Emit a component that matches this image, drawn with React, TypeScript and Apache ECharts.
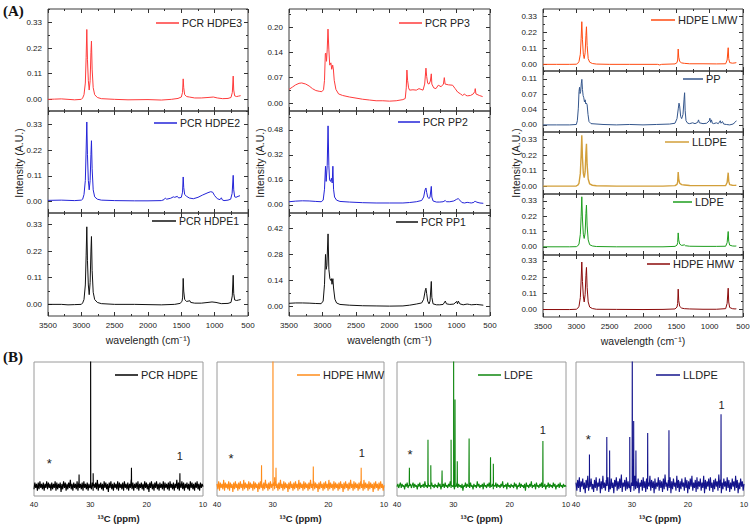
import React, { useEffect, useRef } from "react";
import * as echarts from "echarts";

type Pt = [number, number];

// ---------------- FTIR spectra (wavenumber, intensity) ----------------
const pcrHdpe3: Pt[] = [[3500,0.000],[3400,0.001],[3300,0.002],[3200,0.000],[3100,-0.002],[3000,0.000],[2980,0.006],[2960,0.02],[2940,0.07],[2928,0.18],[2918,0.30],[2908,0.17],[2895,0.08],[2882,0.04],[2868,0.08],[2856,0.2],[2848,0.25],[2838,0.13],[2822,0.05],[2800,0.02],[2760,0.008],[2700,0.003],[2500,0.000],[2300,-0.002],[2000,-0.001],[1800,-0.003],[1650,0.000],[1550,0.004],[1500,0.01],[1482,0.03],[1472,0.088],[1464,0.05],[1450,0.02],[1420,0.012],[1380,0.01],[1300,0.006],[1200,0.006],[1100,0.008],[1020,0.01],[960,0.006],[880,0.003],[800,0.004],[755,0.008],[735,0.03],[722,0.10],[714,0.04],[700,0.015],[670,0.012],[640,0.014],[610,0.016]];
const pcrHdpe2: Pt[] = [[3500,0.005],[3300,0.006],[3100,0.004],[3000,0.006],[2980,0.01],[2960,0.03],[2940,0.09],[2928,0.22],[2918,0.34],[2908,0.2],[2895,0.09],[2882,0.05],[2868,0.09],[2856,0.2],[2848,0.26],[2838,0.14],[2822,0.05],[2800,0.02],[2760,0.01],[2700,0.006],[2500,0.004],[2200,0.003],[2000,0.003],[1800,0.004],[1760,0.008],[1740,0.015],[1720,0.01],[1660,0.014],[1620,0.02],[1600,0.018],[1560,0.022],[1540,0.015],[1500,0.018],[1482,0.04],[1472,0.105],[1464,0.06],[1450,0.03],[1420,0.022],[1380,0.015],[1320,0.012],[1250,0.018],[1180,0.028],[1100,0.038],[1060,0.042],[1030,0.04],[1000,0.025],[960,0.012],[920,0.008],[900,0.016],[885,0.007],[860,0.004],[800,0.006],[760,0.01],[738,0.035],[722,0.112],[714,0.05],[700,0.02],[680,0.018],[650,0.022],[620,0.025]];
const pcrHdpe1: Pt[] = [[3500,0.0],[3300,0.0],[3200,-0.002],[3100,-0.001],[3000,0.0],[2980,0.006],[2960,0.02],[2940,0.08],[2928,0.2],[2918,0.32],[2908,0.18],[2895,0.08],[2882,0.04],[2868,0.09],[2856,0.22],[2848,0.28],[2838,0.14],[2822,0.05],[2800,0.02],[2760,0.008],[2700,0.003],[2500,0.0],[2200,0.0],[2000,-0.001],[1800,-0.002],[1600,0.0],[1520,0.004],[1490,0.012],[1480,0.03],[1472,0.107],[1464,0.055],[1450,0.02],[1420,0.012],[1372,0.015],[1360,0.008],[1300,0.005],[1200,0.005],[1100,0.008],[1040,0.01],[980,0.008],[900,0.003],[800,0.004],[755,0.008],[736,0.035],[722,0.12],[714,0.045],[700,0.018],[670,0.016],[640,0.018],[610,0.02]];
const pcrPp3: Pt[] = [[3500,0.036],[3450,0.042],[3400,0.048],[3350,0.052],[3310,0.053],[3250,0.05],[3200,0.045],[3150,0.038],[3100,0.033],[3050,0.031],[3010,0.03],[2985,0.035],[2970,0.06],[2958,0.13],[2950,0.132],[2940,0.11],[2930,0.14],[2918,0.195],[2905,0.14],[2892,0.1],[2875,0.106],[2862,0.089],[2848,0.1],[2838,0.09],[2825,0.06],[2800,0.036],[2760,0.024],[2700,0.02],[2600,0.016],[2500,0.013],[2400,0.01],[2300,0.008],[2200,0.006],[2100,0.006],[2000,0.005],[1900,0.006],[1800,0.009],[1765,0.012],[1750,0.04],[1740,0.087],[1730,0.06],[1715,0.04],[1700,0.034],[1650,0.035],[1600,0.034],[1560,0.038],[1530,0.036],[1500,0.034],[1475,0.05],[1456,0.092],[1445,0.07],[1430,0.052],[1410,0.05],[1390,0.058],[1376,0.077],[1368,0.05],[1340,0.04],[1307,0.038],[1272,0.047],[1230,0.043],[1195,0.05],[1182,0.067],[1170,0.05],[1120,0.048],[1058,0.047],[1020,0.038],[983,0.029],[940,0.024],[909,0.02],[880,0.024],[860,0.02],[834,0.019],[790,0.02],[750,0.024],[728,0.03],[720,0.038],[710,0.024],[660,0.02],[610,0.017]];
const pcrPp2: Pt[] = [[3500,0.02],[3400,0.024],[3300,0.026],[3200,0.025],[3100,0.022],[3020,0.02],[2990,0.03],[2970,0.1],[2955,0.247],[2945,0.15],[2930,0.25],[2917,0.505],[2905,0.25],[2895,0.16],[2880,0.15],[2867,0.17],[2855,0.14],[2845,0.247],[2835,0.1],[2820,0.05],[2790,0.03],[2740,0.022],[2600,0.018],[2400,0.014],[2200,0.012],[2000,0.012],[1800,0.012],[1700,0.015],[1600,0.02],[1520,0.028],[1490,0.05],[1470,0.095],[1456,0.108],[1445,0.08],[1430,0.05],[1410,0.04],[1395,0.05],[1376,0.118],[1368,0.05],[1350,0.025],[1300,0.018],[1250,0.018],[1200,0.02],[1167,0.028],[1150,0.02],[1100,0.02],[1040,0.025],[1000,0.035],[975,0.04],[950,0.03],[920,0.015],[880,0.012],[841,0.016],[808,0.014],[780,0.012],[740,0.016],[720,0.025],[705,0.018],[650,0.012],[600,0.01]];
const pcrPp1: Pt[] = [[3500,0.018],[3400,0.02],[3300,0.02],[3200,0.019],[3100,0.017],[3020,0.016],[2990,0.03],[2970,0.12],[2955,0.28],[2945,0.2],[2935,0.22],[2917,0.39],[2905,0.2],[2890,0.15],[2875,0.14],[2867,0.15],[2858,0.12],[2845,0.15],[2835,0.1],[2815,0.04],[2790,0.02],[2740,0.012],[2600,0.008],[2400,0.005],[2200,0.004],[2000,0.003],[1800,0.004],[1700,0.008],[1600,0.014],[1520,0.02],[1490,0.04],[1465,0.09],[1456,0.099],[1445,0.07],[1430,0.03],[1410,0.015],[1395,0.03],[1376,0.135],[1368,0.05],[1350,0.015],[1300,0.01],[1250,0.01],[1200,0.012],[1167,0.03],[1150,0.015],[1100,0.012],[1040,0.014],[997,0.028],[985,0.015],[973,0.03],[950,0.015],[900,0.01],[841,0.014],[808,0.012],[780,0.01],[700,0.012],[650,0.01],[600,0.008]];
const hdpeLmw: Pt[] = [[3500,0.0],[3300,0.0],[3100,0.0],[3000,0.001],[2980,0.006],[2960,0.02],[2940,0.07],[2928,0.18],[2918,0.295],[2908,0.17],[2895,0.07],[2882,0.04],[2868,0.08],[2856,0.2],[2848,0.26],[2838,0.13],[2822,0.04],[2800,0.015],[2760,0.006],[2700,0.002],[2500,0.0],[2200,0.0],[2000,0.0],[1780,0.0],[1750,-0.004],[1720,0.0],[1520,0.003],[1490,0.012],[1480,0.03],[1472,0.106],[1464,0.05],[1450,0.02],[1420,0.01],[1380,0.007],[1300,0.004],[1100,0.004],[900,0.003],[760,0.004],[738,0.03],[722,0.115],[714,0.04],[700,0.012],[660,0.008],[620,0.01],[600,0.012]];
const ppRef: Pt[] = [[3500,0.0],[3300,0.0],[3100,0.0],[3000,0.001],[2985,0.01],[2970,0.04],[2960,0.08],[2952,0.09],[2944,0.075],[2935,0.08],[2925,0.1],[2917,0.109],[2908,0.085],[2898,0.07],[2888,0.065],[2878,0.055],[2867,0.06],[2858,0.05],[2848,0.052],[2838,0.048],[2825,0.025],[2810,0.008],[2780,0.003],[2600,0.001],[2400,0.0],[2200,0.001],[2000,0.0],[1800,0.001],[1600,0.002],[1520,0.004],[1490,0.015],[1470,0.04],[1460,0.052],[1450,0.045],[1435,0.02],[1420,0.015],[1400,0.025],[1385,0.06],[1376,0.077],[1368,0.035],[1355,0.01],[1330,0.004],[1300,0.003],[1256,0.005],[1220,0.003],[1180,0.006],[1167,0.012],[1155,0.005],[1100,0.003],[1045,0.004],[1005,0.01],[997,0.016],[985,0.006],[973,0.012],[960,0.004],[940,0.003],[900,0.005],[870,0.003],[841,0.01],[830,0.004],[808,0.008],[790,0.002],[750,0.001],[700,0.0],[650,0.002],[620,0.006],[600,0.01]];
const lldpe: Pt[] = [[3500,0.0],[3100,0.0],[3000,0.001],[2980,0.006],[2960,0.02],[2940,0.09],[2928,0.22],[2918,0.36],[2908,0.2],[2895,0.09],[2882,0.06],[2868,0.1],[2856,0.24],[2848,0.30],[2838,0.15],[2822,0.05],[2800,0.015],[2760,0.006],[2700,0.002],[2400,0.0],[2000,0.0],[1700,0.0],[1520,0.003],[1490,0.012],[1480,0.03],[1472,0.10],[1464,0.05],[1450,0.02],[1420,0.01],[1380,0.008],[1300,0.004],[1100,0.003],[900,0.003],[760,0.004],[738,0.025],[722,0.095],[714,0.035],[700,0.01],[660,0.006],[620,0.005],[600,0.006]];
const ldpe: Pt[] = [[3500,0.0],[3100,0.0],[3000,0.001],[2980,0.006],[2960,0.02],[2940,0.09],[2928,0.22],[2918,0.36],[2908,0.2],[2895,0.09],[2882,0.06],[2868,0.1],[2856,0.24],[2848,0.30],[2838,0.15],[2822,0.05],[2800,0.015],[2760,0.006],[2700,0.002],[2400,0.0],[2000,0.0],[1700,0.0],[1520,0.003],[1490,0.012],[1480,0.03],[1472,0.10],[1464,0.05],[1450,0.02],[1420,0.01],[1378,0.014],[1365,0.008],[1300,0.004],[1100,0.003],[900,0.003],[760,0.004],[738,0.03],[722,0.11],[714,0.04],[700,0.012],[660,0.006],[620,0.005],[600,0.006]];
const hdpeHmw: Pt[] = [[3500,-0.002],[3100,-0.002],[3000,0.0],[2980,0.006],[2960,0.02],[2940,0.08],[2928,0.2],[2918,0.323],[2908,0.19],[2895,0.09],[2882,0.05],[2868,0.1],[2856,0.23],[2848,0.286],[2838,0.15],[2822,0.05],[2800,0.015],[2760,0.005],[2700,0.0],[2400,-0.001],[2000,-0.002],[1700,-0.001],[1520,0.002],[1490,0.015],[1480,0.04],[1472,0.1375],[1464,0.06],[1450,0.02],[1420,0.008],[1380,0.004],[1300,0.002],[1100,0.0],[900,0.0],[760,0.004],[738,0.04],[722,0.144],[714,0.05],[700,0.012],[660,0.004],[620,0.002],[600,0.003]];

// IR tick values and labels
const irXMajor = [500, 1000, 1500, 2000, 2500, 3000, 3500];
const irXMinor = [750, 1250, 1750, 2250, 2750, 3250];
const peTicks = [0, 0.11, 0.22, 0.33];
const peLabels = ["0.00", "0.11", "0.22", "0.33"];
const pp3Ticks = [0, 0.0667, 0.1333, 0.2];
const pp3Labels = ["0.00", "0.07", "0.14", "0.20"];
const pp2Ticks = [0, 0.16, 0.32, 0.48];
const pp2Labels = ["0.00", "0.16", "0.32", "0.48"];
const pp1Ticks = [0, 0.14, 0.28, 0.42];
const pp1Labels = ["0.00", "0.14", "0.28", "0.42"];
const ppRefTicks = [0, 0.0367, 0.0733, 0.11];
const ppRefLabels = ["0.00", "0.04", "0.07", "0.11"];

// ---------------- 13C NMR (baseline samples read from 40 to 10 ppm, peaks [ppm, height]) ----------------
const nmrNoisePcrHdpe = [
0.05,0.10,0.06,0.09,0.04,0.10,0.05,0.11,0.06,0.09,0.05,0.10,0.04,0.09,0.06,0.11,0.05,0.10,0.06,0.09,
0.04,0.10,0.05,0.09,0.06,0.11,0.04,0.10,0.05,0.09,0.06,0.10,0.03,0.09,0.05,0.11,0.06,0.10,0.04,0.09,
0.05,0.10,0.06,0.12,0.05,0.09,0.04,0.10,0.06,0.09,0.05,0.11,0.04,0.10,0.06,0.09,0.05,0.10,0.04,0.11,
0.06,0.09,0.05,0.10,0.04,0.09,0.06,0.11,0.05,0.10,0.04,0.09,0.06,0.10,0.05,0.12,0.04,0.09,0.06,0.10,
0.05,0.09,0.04,0.11,0.06,0.10,0.05,0.09,0.03,0.10,0.06,0.11,0.05,0.09,0.04,0.10,0.06,0.09,0.05,0.11,
0.04,0.10,0.06,0.09,0.05,0.10,0.04,0.11,0.06,0.09,0.05,0.10,0.04,0.09,0.06,0.12,0.05,0.10,0.04,0.09,
0.06,0.10,0.05,0.11,0.04,0.09,0.06,0.10,0.05,0.09,0.04,0.11,0.06,0.10,0.05,0.09,0.03,0.10,0.06,0.11,
0.05,0.09,0.04,0.10,0.06,0.11,0.05,0.09,0.04,0.10,0.06,0.09,0.05,0.11,0.04,0.10,0.06,0.09,0.05,0.10,
0.04,0.11,0.06,0.09,0.05,0.10,0.04,0.09,0.06,0.12,0.05,0.10,0.04,0.09,0.06,0.11,0.05,0.10,0.04,0.09,
0.06,0.10,0.05,0.09,0.04,0.11,0.06,0.10,0.05,0.09,0.04,0.10,0.06,0.11,0.05,0.09,0.04,0.10,0.06,0.09,0.07];
const nmrNoiseHmw = [
0.09,0.05,0.11,0.04,0.10,0.06,0.09,0.05,0.12,0.04,0.10,0.06,0.09,0.05,0.11,0.04,0.10,0.06,0.09,0.03,
0.10,0.05,0.11,0.06,0.09,0.04,0.10,0.05,0.11,0.06,0.09,0.04,0.12,0.05,0.10,0.06,0.09,0.04,0.11,0.05,
0.10,0.06,0.09,0.04,0.11,0.05,0.10,0.06,0.09,0.03,0.10,0.05,0.11,0.06,0.09,0.04,0.10,0.05,0.12,0.06,
0.09,0.04,0.10,0.05,0.11,0.06,0.09,0.04,0.10,0.05,0.11,0.06,0.09,0.04,0.10,0.05,0.12,0.06,0.09,0.04,
0.11,0.05,0.10,0.06,0.09,0.03,0.10,0.05,0.11,0.06,0.09,0.04,0.10,0.05,0.11,0.06,0.09,0.04,0.12,0.05,
0.10,0.06,0.09,0.04,0.11,0.05,0.10,0.06,0.09,0.04,0.10,0.05,0.12,0.06,0.09,0.04,0.11,0.05,0.10,0.06,
0.09,0.03,0.10,0.05,0.11,0.06,0.09,0.04,0.10,0.05,0.11,0.06,0.09,0.04,0.12,0.05,0.10,0.06,0.09,0.04,
0.11,0.05,0.10,0.06,0.09,0.04,0.10,0.05,0.11,0.06,0.09,0.03,0.10,0.05,0.11,0.06,0.09,0.04,0.10,0.05,
0.12,0.06,0.09,0.04,0.11,0.05,0.10,0.06,0.09,0.04,0.10,0.05,0.11,0.06,0.09,0.04,0.12,0.05,0.10,0.06,
0.09,0.04,0.11,0.05,0.10,0.06,0.09,0.03,0.10,0.05,0.11,0.06,0.09,0.04,0.10,0.05,0.11,0.06,0.09,0.04,0.08];
const nmrNoiseLdpe = [
0.07,0.09,0.06,0.08,0.10,0.06,0.09,0.07,0.08,0.05,0.09,0.07,0.10,0.06,0.08,0.07,0.09,0.06,0.08,0.10,
0.06,0.09,0.07,0.08,0.05,0.09,0.07,0.10,0.06,0.08,0.07,0.09,0.06,0.11,0.07,0.08,0.06,0.09,0.07,0.08,
0.05,0.10,0.07,0.08,0.06,0.09,0.07,0.08,0.06,0.10,0.07,0.09,0.05,0.08,0.07,0.09,0.06,0.10,0.07,0.08,
0.06,0.09,0.07,0.11,0.06,0.08,0.07,0.09,0.05,0.08,0.07,0.10,0.06,0.09,0.07,0.08,0.06,0.09,0.04,0.08,
0.07,0.10,0.06,0.09,0.07,0.08,0.06,0.10,0.07,0.08,0.05,0.09,0.07,0.08,0.06,0.11,0.07,0.09,0.06,0.08,
0.07,0.09,0.05,0.10,0.07,0.08,0.06,0.09,0.07,0.10,0.06,0.08,0.07,0.09,0.05,0.08,0.07,0.10,0.06,0.09,
0.07,0.08,0.06,0.09,0.07,0.11,0.06,0.08,0.07,0.09,0.05,0.10,0.07,0.08,0.06,0.09,0.07,0.08,0.06,0.10,
0.07,0.09,0.05,0.08,0.07,0.10,0.06,0.09,0.07,0.08,0.06,0.09,0.04,0.10,0.07,0.08,0.06,0.09,0.07,0.11,
0.06,0.08,0.07,0.09,0.05,0.10,0.07,0.08,0.06,0.09,0.07,0.10,0.06,0.08,0.07,0.09,0.05,0.08,0.07,0.10,
0.06,0.09,0.07,0.08,0.06,0.10,0.07,0.09,0.05,0.08,0.07,0.09,0.06,0.10,0.07,0.08,0.06,0.09,0.07,0.08,0.07];
const nmrNoiseLldpe = [
0.10,0.04,0.12,0.06,0.14,0.03,0.11,0.07,0.13,0.05,0.10,0.02,0.12,0.06,0.15,0.04,0.11,0.07,0.13,0.05,
0.09,0.03,0.12,0.06,0.14,0.04,0.10,0.07,0.13,0.02,0.11,0.05,0.15,0.06,0.10,0.04,0.12,0.07,0.14,0.03,
0.11,0.05,0.13,0.06,0.10,0.02,0.12,0.07,0.14,0.04,0.11,0.05,0.13,0.06,0.16,0.03,0.10,0.07,0.12,0.04,
0.14,0.05,0.11,0.06,0.13,0.03,0.10,0.07,0.12,0.04,0.15,0.05,0.11,0.06,0.13,0.02,0.10,0.07,0.12,0.04,
0.14,0.06,0.11,0.03,0.13,0.05,0.10,0.07,0.15,0.04,0.12,0.06,0.11,0.02,0.13,0.05,0.10,0.07,0.14,0.04,
0.12,0.06,0.11,0.03,0.13,0.05,0.16,0.07,0.10,0.04,0.12,0.06,0.14,0.02,0.11,0.05,0.13,0.07,0.10,0.04,
0.15,0.06,0.12,0.03,0.11,0.05,0.13,0.07,0.10,0.04,0.14,0.06,0.12,0.02,0.11,0.05,0.13,0.07,0.15,0.04,
0.10,0.06,0.12,0.03,0.14,0.05,0.11,0.07,0.13,0.04,0.10,0.06,0.15,0.02,0.12,0.05,0.11,0.07,0.13,0.04,
0.14,0.06,0.10,0.03,0.12,0.05,0.13,0.07,0.11,0.04,0.16,0.06,0.12,0.02,0.10,0.05,0.13,0.07,0.11,0.04,
0.14,0.06,0.12,0.03,0.10,0.05,0.13,0.07,0.11,0.04,0.15,0.06,0.12,0.02,0.10,0.05,0.13,0.07,0.11,0.04,0.09];

const nmrPeaksPcrHdpe: Pt[] = [[32.0,0.16],[29.95,1.2],[29.5,0.17],[22.7,0.21],[14.1,0.17]];
const nmrPeaksHmw: Pt[] = [[32.0,0.23],[29.95,1.2],[29.65,0.14],[29.4,0.21],[22.7,0.22],[14.1,0.21]];
const nmrPeaksLdpe: Pt[] = [[37.8,0.21],[34.5,0.42],[34.0,0.23],[32.0,0.19],[30.4,0.42],[29.95,1.2],[29.7,0.72],[29.3,0.26],[27.2,0.43],[23.4,0.29],[22.9,0.24],[14.1,0.41]];
const nmrPeaksLldpe: Pt[] = [[37.6,0.31],[34.5,0.44],[34.0,0.34],[30.4,0.44],[29.95,1.2],[29.7,0.56],[29.3,0.34],[27.2,0.47],[23.4,0.49],[14.1,0.61]];
const nmrBase = 0.075;

// annotations [ppm, y]
const starPcrHdpe: Pt = [37.3, 0.24];
const onePcrHdpe: Pt = [14.1, 0.30];
const starHmw: Pt = [37.5, 0.28];
const oneHmw: Pt = [14.0, 0.32];
const starLdpe: Pt = [37.7, 0.31];
const oneLdpe: Pt = [14.1, 0.49];
const starLldpe: Pt = [37.8, 0.42];
const oneLldpe: Pt = [14.0, 0.68];
const nmrXTicks = [10, 20, 30, 40];

const FONT = "Liberation Sans, Arial, sans-serif";

type IRPanel = {
  name: string; data: Pt[]; color: string; rect: number[]; y: number[];
  ticks: number[]; labels: string[]; legend: number[]; fs: number; bottom: boolean; lw?: number;
};

const irPanels: IRPanel[] = [
  { name: "PCR HDPE3", data: pcrHdpe3, color: "#ff3b3b", rect: [48, 9, 200, 102], y: [-0.05, 0.388], ticks: peTicks, labels: peLabels, legend: [156, 179, 23], fs: 10.5, bottom: false },
  { name: "PCR HDPE2", data: pcrHdpe2, color: "#2424d8", rect: [48, 111, 200, 102], y: [-0.049, 0.387], ticks: peTicks, labels: peLabels, legend: [154, 177, 123], fs: 10.5, bottom: false },
  { name: "PCR HDPE1", data: pcrHdpe1, color: "#111111", rect: [48, 213, 200, 103], y: [-0.048, 0.377], ticks: peTicks, labels: peLabels, legend: [152, 176, 221], fs: 10.5, bottom: true },
  { name: "PCR PP3", data: pcrPp3, color: "#ff3b3b", rect: [289, 9, 201, 102], y: [-0.021, 0.248], ticks: pp3Ticks, labels: pp3Labels, legend: [399, 422, 23], fs: 10.5, bottom: false },
  { name: "PCR PP2", data: pcrPp2, color: "#2424d8", rect: [289, 111, 201, 102], y: [-0.052, 0.6], ticks: pp2Ticks, labels: pp2Labels, legend: [398, 420, 122], fs: 10.5, bottom: false },
  { name: "PCR PP1", data: pcrPp1, color: "#111111", rect: [289, 213, 201, 103], y: [-0.05, 0.502], ticks: pp1Ticks, labels: pp1Labels, legend: [396, 418, 222], fs: 10.5, bottom: true },
  { name: "HDPE LMW", data: hdpeLmw, color: "#ff4a10", rect: [543, 9, 200, 62], y: [-0.046, 0.383], ticks: peTicks, labels: peLabels, legend: [651, 675, 20], fs: 11, bottom: false },
  { name: "PP", data: ppRef, color: "#34568c", rect: [543, 71, 200, 61], y: [-0.017, 0.129], ticks: ppRefTicks, labels: ppRefLabels, legend: [683, 703, 79], fs: 11, bottom: false },
  { name: "LLDPE", data: lldpe, color: "#d29f3a", rect: [543, 132, 200, 62], y: [-0.056, 0.383], ticks: peTicks, labels: peLabels, legend: [665, 689, 142], fs: 11, bottom: false, lw: 1.4 },
  { name: "LDPE", data: ldpe, color: "#1e9e1e", rect: [543, 194, 200, 61], y: [-0.059, 0.38], ticks: peTicks, labels: peLabels, legend: [673, 692, 202], fs: 11, bottom: false },
  { name: "HDPE HMW", data: hdpeHmw, color: "#8b0a0a", rect: [543, 255, 200, 62], y: [-0.053, 0.371], ticks: peTicks, labels: peLabels, legend: [647, 670, 264], fs: 11, bottom: true },
];

type NMRPanel = { name: string; noise: number[]; peaks: Pt[]; star: Pt; one: Pt; color: string; rect: number[]; legend: number[] };
const nmrPanels: NMRPanel[] = [
  { name: "PCR HDPE", noise: nmrNoisePcrHdpe, peaks: nmrPeaksPcrHdpe, star: starPcrHdpe, one: onePcrHdpe, color: "#000000", rect: [34, 362, 169, 134], legend: [115, 138, 375] },
  { name: "HDPE HMW", noise: nmrNoiseHmw, peaks: nmrPeaksHmw, star: starHmw, one: oneHmw, color: "#ff8c1a", rect: [217, 362, 167, 134], legend: [297, 320, 375] },
  { name: "LDPE", noise: nmrNoiseLdpe, peaks: nmrPeaksLdpe, star: starLdpe, one: oneLdpe, color: "#0f870f", rect: [397, 362, 169, 134], legend: [478, 501, 375] },
  { name: "LLDPE", noise: nmrNoiseLldpe, peaks: nmrPeaksLldpe, star: starLldpe, one: oneLldpe, color: "#14148c", rect: [576, 362, 168, 134], legend: [656, 680, 375] },
];

function halfTicks(major: number[], lo: number, hi: number): number[] {
  const step = major[1] - major[0];
  const out: number[] = [];
  for (let v = major[0] - step / 2; v <= hi + 1e-9; v += step) if (v >= lo - 1e-9) out.push(v);
  return out;
}

function nmrSeriesData(noise: number[], peaks: Pt[]): Pt[] {
  const pts: Pt[] = noise.map((v, i) => [40 - (i * 30) / (noise.length - 1), v] as Pt);
  peaks.forEach(([p, h]) => {
    pts.push([p + 0.03, nmrBase], [p, h], [p - 0.03, nmrBase]);
  });
  pts.sort((a, b) => b[0] - a[0]);
  return pts;
}

function buildOption() {
  const grid: any[] = [], xAxis: any[] = [], yAxis: any[] = [], series: any[] = [], graphic: any[] = [];
  const tickLine = { color: "#333", width: 1 };
  const nmrGridIndex: number[] = [];

  irPanels.forEach((p) => {
    const gi = grid.length;
    const [l, t, w, h] = p.rect;
    grid.push({ left: l, top: t, width: w, height: h, show: true, borderColor: "#3a3a3a", borderWidth: 1, backgroundColor: "rgba(0,0,0,0)" });
    const xi = xAxis.length;
    const xc = { type: "value", gridIndex: gi, min: 500, max: 3500, inverse: true, splitLine: { show: false }, axisLine: { show: false, onZero: false } };
    xAxis.push({
      ...xc, position: "bottom",
      axisTick: { show: true, inside: true, length: 4, lineStyle: tickLine, customValues: irXMajor },
      axisLabel: { show: p.bottom, customValues: irXMajor, fontSize: 8, margin: 5, color: "#222", fontFamily: FONT, formatter: (v: number) => String(v) },
      name: p.bottom ? "wavelength (cm⁻¹)" : "", nameLocation: "middle", nameGap: 18,
      nameTextStyle: { fontSize: 10.5, color: "#222", fontFamily: FONT },
    });
    xAxis.push({ ...xc, position: "bottom", axisTick: { show: true, inside: true, length: 2, lineStyle: tickLine, customValues: irXMinor }, axisLabel: { show: false } });
    xAxis.push({ ...xc, position: "top", axisTick: { show: true, inside: true, length: 4, lineStyle: tickLine, customValues: irXMajor }, axisLabel: { show: false } });
    xAxis.push({ ...xc, position: "top", axisTick: { show: true, inside: true, length: 2, lineStyle: tickLine, customValues: irXMinor }, axisLabel: { show: false } });
    const yi = yAxis.length;
    const yc = { type: "value", gridIndex: gi, min: p.y[0], max: p.y[1], splitLine: { show: false }, axisLine: { show: false, onZero: false } };
    const minor = halfTicks(p.ticks, p.y[0], p.y[1]);
    yAxis.push({
      ...yc, position: "left",
      axisTick: { show: true, inside: true, length: 4, lineStyle: tickLine, customValues: p.ticks },
      axisLabel: {
        show: true, customValues: p.ticks, fontSize: 8, margin: 6, color: "#222", fontFamily: FONT,
        formatter: (v: number) => {
          const i = p.ticks.findIndex((tv) => Math.abs(tv - v) < 1e-6);
          return i >= 0 ? p.labels[i] : "";
        },
      },
    });
    yAxis.push({ ...yc, position: "left", axisTick: { show: true, inside: true, length: 2, lineStyle: tickLine, customValues: minor }, axisLabel: { show: false } });
    yAxis.push({ ...yc, position: "right", axisTick: { show: true, inside: true, length: 4, lineStyle: tickLine, customValues: p.ticks }, axisLabel: { show: false } });
    yAxis.push({ ...yc, position: "right", axisTick: { show: true, inside: true, length: 2, lineStyle: tickLine, customValues: minor }, axisLabel: { show: false } });
    series.push({
      type: "line", name: p.name, xAxisIndex: xi, yAxisIndex: yi, data: p.data, symbol: "none", showSymbol: false,
      lineStyle: { color: p.color, width: p.lw ?? 1 }, itemStyle: { color: p.color }, silent: true, clip: true,
    });
    const [x1, x2, ly] = p.legend;
    graphic.push({ type: "line", shape: { x1, y1: ly, x2, y2: ly }, style: { stroke: p.color, lineWidth: 1.5 } });
    graphic.push({
      type: "text", x: x2 + 3, y: ly,
      style: { text: p.name, fill: "#222", fontSize: p.fs, fontFamily: FONT, textAlign: "left", align: "left", textVerticalAlign: "middle", verticalAlign: "middle" },
    });
  });

  nmrPanels.forEach((p) => {
    const gi = grid.length;
    nmrGridIndex.push(gi);
    const [l, t, w, h] = p.rect;
    grid.push({ left: l, top: t, width: w, height: h, show: true, borderColor: "#9a9a9a", borderWidth: 1, backgroundColor: "rgba(0,0,0,0)" });
    const xi = xAxis.length;
    xAxis.push({
      type: "value", gridIndex: gi, min: 10, max: 40, inverse: true, position: "bottom",
      splitLine: { show: false }, axisLine: { show: false, onZero: false }, axisTick: { show: false },
      axisLabel: { show: true, customValues: nmrXTicks, fontSize: 7.5, margin: 4, color: "#222", fontFamily: FONT },
      name: "¹³C (ppm)", nameLocation: "middle", nameGap: 17,
      nameTextStyle: { fontSize: 9.5, fontWeight: "bold", color: "#222", fontFamily: FONT },
    });
    const yi = yAxis.length;
    yAxis.push({ type: "value", gridIndex: gi, min: 0, max: 1, show: false, axisLine: { onZero: false } });
    series.push({
      type: "line", name: p.name + " NMR", xAxisIndex: xi, yAxisIndex: yi, data: nmrSeriesData(p.noise, p.peaks),
      symbol: "none", showSymbol: false, lineStyle: { color: p.color, width: 1.1 }, itemStyle: { color: p.color }, silent: true, clip: true,
    });
    const [x1, x2, ly] = p.legend;
    graphic.push({ type: "line", shape: { x1, y1: ly, x2, y2: ly }, style: { stroke: p.color, lineWidth: 1.5 } });
    graphic.push({
      type: "text", x: x2 + 3, y: ly,
      style: { text: p.name, fill: "#222", fontSize: 11, fontFamily: FONT, textAlign: "left", align: "left", textVerticalAlign: "middle", verticalAlign: "middle" },
    });
  });

  // column y-axis titles
  [18.5, 259.5, 515.5].forEach((x) => {
    graphic.push({
      type: "text", x, y: 163, rotation: Math.PI / 2,
      style: { text: "Intensity (A.U.)", fill: "#222", fontSize: 10.5, fontFamily: FONT, textAlign: "center", align: "center", textVerticalAlign: "middle", verticalAlign: "middle" },
    });
  });
  // panel letters
  graphic.push({ type: "text", x: 3, y: 11, style: { text: "(A)", fill: "#111", fontSize: 15, fontWeight: "bold", fontFamily: "Liberation Serif, Times New Roman, serif", textVerticalAlign: "middle", verticalAlign: "middle" } });
  graphic.push({ type: "text", x: 3, y: 357, style: { text: "(B)", fill: "#111", fontSize: 15, fontWeight: "bold", fontFamily: "Liberation Serif, Times New Roman, serif", textVerticalAlign: "middle", verticalAlign: "middle" } });

  return {
    option: {
      animation: false,
      backgroundColor: "#ffffff",
      textStyle: { fontFamily: FONT },
      grid, xAxis, yAxis, series, graphic,
    },
    graphic,
    nmrGridIndex,
  };
}

export default function App() {
  const ref = useRef<HTMLDivElement | null>(null);
  useEffect(() => {
    if (!ref.current) return;
    const chart = echarts.init(ref.current, undefined, { renderer: "svg" });
    const built = buildOption();
    chart.setOption(built.option as any);
    // place the "*" and "1" annotations at their data coordinates
    const notes: any[] = [];
    nmrPanels.forEach((p, k) => {
      const gi = built.nmrGridIndex[k];
      const s = chart.convertToPixel({ gridIndex: gi } as any, p.star) as number[];
      const o = chart.convertToPixel({ gridIndex: gi } as any, p.one) as number[];
      if (s) notes.push({ type: "text", x: s[0], y: s[1], style: { text: "*", fill: "#222", fontSize: 13, fontFamily: FONT, textAlign: "center", align: "center", textVerticalAlign: "middle", verticalAlign: "middle" } });
      if (o) notes.push({ type: "text", x: o[0], y: o[1], style: { text: "1", fill: "#222", fontSize: 11, fontFamily: FONT, textAlign: "center", align: "center", textVerticalAlign: "middle", verticalAlign: "middle" } });
    });
    chart.setOption({ graphic: [...built.graphic, ...notes] } as any);
    return () => chart.dispose();
  }, []);
  return <div ref={ref} style={{ position: "fixed", left: 0, top: 0, width: 755, height: 525, background: "#fff" }} />;
}
